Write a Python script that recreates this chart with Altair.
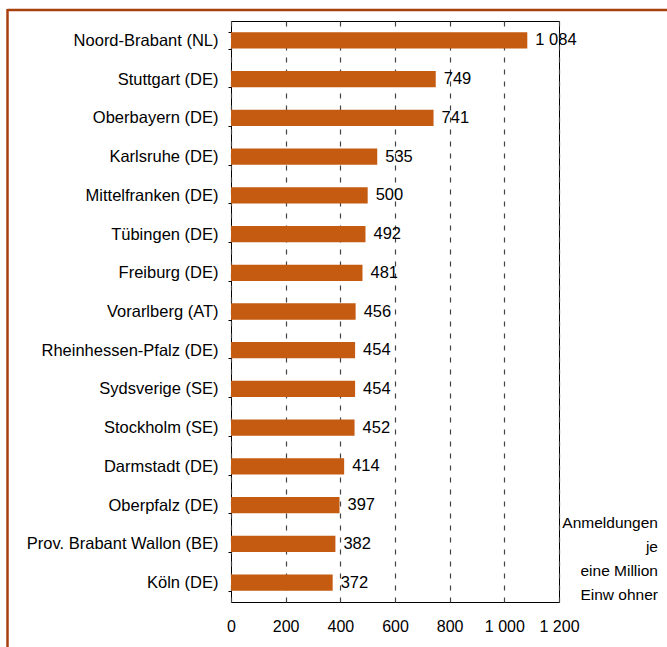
import altair as alt
import pandas as pd

regions = [
    "Noord-Brabant (NL)", "Stuttgart (DE)", "Oberbayern (DE)", "Karlsruhe (DE)",
    "Mittelfranken (DE)", "Tübingen (DE)", "Freiburg (DE)", "Vorarlberg (AT)",
    "Rheinhessen-Pfalz (DE)", "Sydsverige (SE)", "Stockholm (SE)", "Darmstadt (DE)",
    "Oberpfalz (DE)", "Prov. Brabant Wallon (BE)", "Köln (DE)",
]
values = [1084, 749, 741, 535, 500, 492, 481, 456, 454, 454, 452, 414, 397, 382, 372]
x_ticks = [0, 200, 400, 600, 800, 1000, 1200]
unit_lines = ["Anmeldungen", "je", "eine Million", "Einw ohner"]

FONT = "Liberation Sans"
BAR = "#C55A11"
FRAME = "#A8400E"

df = pd.DataFrame({"region": regions, "value": values})
df["label"] = [f"{v:,}".replace(",", " ") for v in values]

W, H = 328, 581

x = alt.X(
    "value:Q",
    scale=alt.Scale(domain=[0, 1200], nice=False),
    axis=alt.Axis(
        values=x_ticks, title=None, domain=False, ticks=False, labelOverlap=False,
        labelFlush=False,
        labelPadding=16, labelFont=FONT, labelFontSize=16, labelColor="#000",
        labelExpr="replace(format(datum.value, ','), ',', ' ')",
        grid=True, gridColor="#444444", gridDash=[5, 7], gridWidth=1.2,
    ),
)
y = alt.Y(
    "region:N",
    sort=regions,
    scale=alt.Scale(paddingInner=0.58, paddingOuter=0.29),
    axis=alt.Axis(
        title=None, domain=False, tickBand="extent", ticks=True, tickSize=3,
        tickColor="#000", labelPadding=10, labelFont=FONT, labelFontSize=16.5,
        labelColor="#000", labelLimit=400, grid=False,
    ),
)

bars = alt.Chart(df).mark_bar(color=BAR).encode(x=x, y=y)

labels = alt.Chart(df).mark_text(
    align="left", baseline="middle", dx=8, font=FONT, fontSize=16.5, color="#000"
).encode(x="value:Q", y=alt.Y("region:N", sort=regions), text="label:N")

one = pd.DataFrame({"k": [0]})

frame_top = alt.Chart(one).mark_rule(color=FRAME, strokeWidth=2.5).encode(
    x=alt.value(-223.5), x2=alt.value(W + 200), y=alt.value(-11)
)
frame_left = alt.Chart(one).mark_rule(color=FRAME, strokeWidth=2.5).encode(
    x=alt.value(-223.5), y=alt.value(-12), y2=alt.value(H + 100)
)

unit_text = alt.Chart(one).mark_text(
    align="right", baseline="alphabetic", font=FONT, fontSize=15.5,
    lineHeight=24, color="#000"
).encode(x=alt.value(427), y=alt.value(507), text=alt.value(unit_lines))

chart = alt.layer(bars, labels, frame_top, frame_left, unit_text).properties(
    width=W, height=H,
    autosize=alt.AutoSizeParams(type="none"),
    padding={"left": 231, "top": 21, "right": 108, "bottom": 45},
    background="white",
).configure_view(stroke="#000", strokeWidth=1)

chart.save("out.html", embed_options={"renderer": "svg", "actions": False})
